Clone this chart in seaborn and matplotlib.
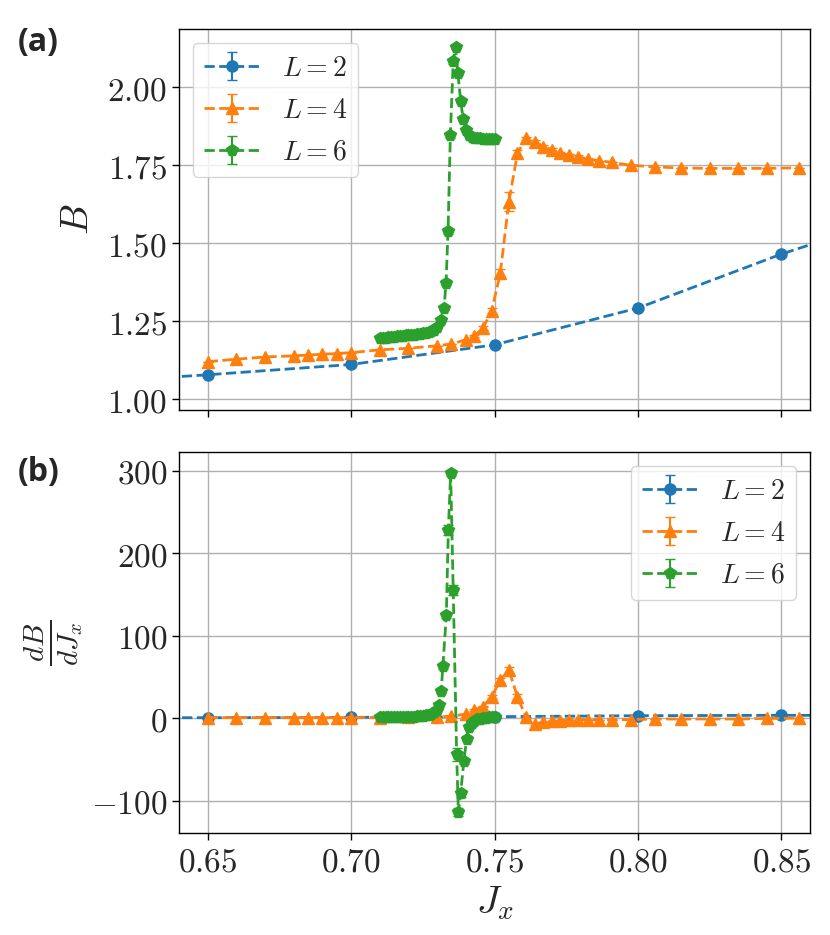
import numpy as np
import pandas as pd
import matplotlib
matplotlib.use("Agg")
import matplotlib.pyplot as plt
from matplotlib.ticker import FuncFormatter
import seaborn as sns

# L = 2 (coarse scan, extra points outside the view keep the line running to the edges)
x2 = [0.60, 0.65, 0.70, 0.75, 0.80, 0.85, 0.90]
B2 = [1.048, 1.078, 1.111, 1.174, 1.292, 1.465, 1.615]
B2_err = [0, 0, 0, 0, 0.006, 0.006, 0]
dB2 = [0.5, 0.6, 1.0, 1.8, 3.0, 3.5, 3.0]
dB2_err = [0, 0, 0, 0, 0, 0, 0]

# L = 4
x4 = [0.65, 0.66, 0.67, 0.68, 0.685, 0.69, 0.695, 0.70, 0.71, 0.72, 0.73, 0.735,
      0.74, 0.743, 0.746, 0.749, 0.752, 0.755, 0.758, 0.761, 0.764, 0.767, 0.770,
      0.773, 0.776, 0.779, 0.7825, 0.7865, 0.791, 0.7975, 0.806, 0.815, 0.825,
      0.835, 0.845, 0.856]
B4 = [1.120, 1.128, 1.135, 1.139, 1.141, 1.144, 1.146, 1.149, 1.158, 1.163, 1.171, 1.177,
      1.190, 1.203, 1.228, 1.283, 1.403, 1.633, 1.788, 1.837, 1.826, 1.810, 1.800,
      1.788, 1.783, 1.778, 1.770, 1.765, 1.759, 1.750, 1.745, 1.741, 1.740,
      1.740, 1.740, 1.742]
B4_err = [0, 0, 0, 0, 0, 0, 0, 0, 0, 0, 0, 0,
          0, 0.004, 0.006, 0.008, 0.015, 0.03, 0.01, 0.005, 0.005, 0.005, 0.004,
          0.004, 0.004, 0.004, 0, 0, 0, 0, 0, 0, 0,
          0, 0, 0]
dB4 = [0.7, 0.7, 0.7, 0.7, 0.7, 0.7, 0.7, 0.7, 0.8, 0.9, 1.5, 2.4,
       5, 10, 14, 26, 46, 58.5, 26, 1, -7, -5, -4,
       -3, -2, -2, -2, -2, -1.8, -1.8, -1, -1, -1,
       -1, -0.3, 0]
dB4_err = [0, 0, 0, 0, 0, 0, 0, 0, 0, 0, 0, 0,
           0, 1, 1, 2, 3, 4, 3, 1, 1, 0, 0,
           0, 0, 0, 0, 0, 0, 0, 0, 0, 0,
           0, 0, 0]

# L = 6 (fine scan)
x6 = [0.710, 0.711, 0.712, 0.713, 0.714, 0.715, 0.716, 0.717, 0.718, 0.719, 0.720,
      0.721, 0.722, 0.723, 0.724, 0.725, 0.726, 0.727, 0.728, 0.729, 0.730,
      0.7312, 0.7324, 0.7331, 0.7338, 0.7346, 0.7356, 0.7364, 0.7372, 0.7382,
      0.7391, 0.7400, 0.741, 0.742, 0.743, 0.744, 0.745, 0.746, 0.747, 0.748,
      0.749, 0.750]
B6 = [1.195, 1.196, 1.197, 1.198, 1.199, 1.200, 1.201, 1.202, 1.203, 1.204, 1.205,
      1.206, 1.207, 1.208, 1.209, 1.211, 1.213, 1.215, 1.218, 1.222, 1.230,
      1.254, 1.292, 1.373, 1.540, 1.846, 2.084, 2.129, 2.047, 1.956,
      1.897, 1.863, 1.848, 1.842, 1.839, 1.837, 1.836, 1.835, 1.834, 1.834,
      1.833, 1.833]
B6_err = [0] * 21 + [0.004, 0.006, 0.008, 0.01, 0.01, 0.008, 0.006, 0.006, 0.005,
                     0.004, 0.003] + [0] * 10
x6d = [0.710, 0.711, 0.712, 0.713, 0.714, 0.715, 0.716, 0.717, 0.718, 0.719, 0.720,
       0.721, 0.722, 0.723, 0.724, 0.725, 0.726, 0.727, 0.728, 0.729, 0.7300,
       0.7306, 0.7314, 0.7320, 0.7332, 0.7339, 0.7347, 0.7356, 0.7368, 0.7374,
       0.7382, 0.7393, 0.7403, 0.7411, 0.742, 0.743, 0.744, 0.745, 0.746, 0.747,
       0.748, 0.749, 0.750]
dB6 = [1.2, 1.2, 1.3, 1.3, 1.4, 1.4, 1.5, 1.5, 1.6, 1.7, 1.8,
       1.9, 2.0, 2.2, 2.4, 2.8, 3.3, 4.0, 5.0, 7.0, 10,
       16, 33, 63, 125, 228, 297, 155, -44, -114,
       -91, -52, -25, -11, -6, -3, -1.5, -0.5, 0.3, 0.8,
       1.0, 1.0, 1.0]
dB6_err = [0] * 21 + [1, 2, 3, 4, 6, 4, 6, 8, 5, 4, 4, 3, 2] + [0] * 9

labels = [r"$L=2$", r"$L=4$", r"$L=6$"]
markers = ["o", "^", "p"]
sizes = [8, 9, 8.5]

series_top = [(x2, B2, B2_err), (x4, B4, B4_err), (x6, B6, B6_err)]
series_bot = [(x2, dB2, dB2_err), (x4, dB4, dB4_err), (x6d, dB6, dB6_err)]

sns.set_theme(style="ticks")
plt.rcParams["font.family"] = ["DejaVu Sans"]
plt.rcParams["mathtext.fontset"] = "cm"
plt.rcParams["axes.edgecolor"] = "black"
plt.rcParams["axes.linewidth"] = 1.0
colors = sns.color_palette("tab10", 3)

fig = plt.figure(figsize=(8.3, 9.35), dpi=100)
ax1 = fig.add_axes([0.2157, 0.5615, 0.7602, 0.4078])
ax2 = fig.add_axes([0.2157, 0.1088, 0.7602, 0.4081], sharex=ax1)

for ax, series in [(ax1, series_top), (ax2, series_bot)]:
    for (xs, ys, es), lab, m, ms, c in zip(series, labels, markers, sizes, colors):
        ax.errorbar(xs, ys, yerr=es, fmt="--", marker=m, ms=ms, lw=2.0,
                    color=c, capsize=3.5, elinewidth=1.5, label=lab)
    ax.grid(True, color="#b0b0b0", lw=1.0)
    ax.tick_params(labelsize=24, length=5, width=1, direction="out", color="black")
    for s in ax.spines.values():
        s.set_visible(True)
        s.set_color("black")

ax1.set_xlim(0.64, 0.86)
ax1.set_ylim(0.965, 2.188)
ax1.set_yticks([1.00, 1.25, 1.50, 1.75, 2.00])
ax1.yaxis.set_major_formatter(FuncFormatter(lambda v, p: f"${v:.2f}$"))
ax1.tick_params(axis="x", labelbottom=False)
ax1.set_ylabel(r"$B$", fontsize=28, labelpad=8)

ax2.set_ylim(-139.5, 323)
ax2.set_yticks([-100, 0, 100, 200, 300])
ax2.yaxis.set_major_formatter(FuncFormatter(lambda v, p: f"${v:.0f}$"))
ax2.set_xticks([0.65, 0.70, 0.75, 0.80, 0.85])
ax2.xaxis.set_major_formatter(FuncFormatter(lambda v, p: f"${v:.2f}$"))
ax2.set_ylabel(r"$\frac{dB}{dJ_x}$", fontsize=30)
ax2.set_xlabel(r"$J_x$", fontsize=28)

ax1.legend(loc="upper left", fontsize=20, frameon=True, framealpha=0.8, edgecolor="0.8")
ax2.legend(loc="upper right", fontsize=20, frameon=True, framealpha=0.8, edgecolor="0.8")

fig.text(0.021, 0.955, "(a)", fontsize=23, fontweight="bold", family="Open Sans", va="center")
fig.text(0.021, 0.4947, "(b)", fontsize=23, fontweight="bold", family="Open Sans", va="center")

fig.savefig("out.png", dpi=100)
